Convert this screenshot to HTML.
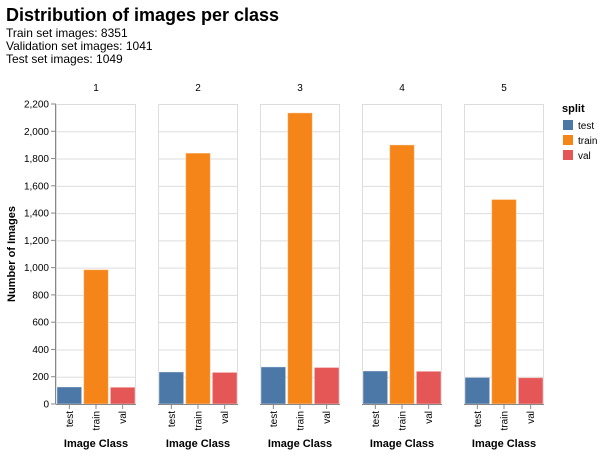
<!DOCTYPE html>
<html><head><meta charset="utf-8"><style>
body{margin:0;background:#fff;font-family:"Liberation Sans",Arial,sans-serif}
svg text{font-family:"Liberation Sans",Arial,sans-serif}
</style></head><body>
<svg id="c" width="604" height="453" xmlns="http://www.w3.org/2000/svg">
<text x="6" y="21" font-size="18" font-weight="bold" fill="#000">Distribution of images per class</text>
<text x="6" y="37" font-size="12">Train set images: 8351</text>
<text x="6" y="50" font-size="12">Validation set images: 1041</text>
<text x="6" y="63" font-size="12">Test set images: 1049</text>
<text transform="translate(15,254) rotate(-90)" text-anchor="middle" font-size="11" font-weight="bold">Number of Images</text>
<g id="legend">
<text x="562" y="112" font-size="11" font-weight="bold">split</text>
</g>
</svg>
<script>
const facets = ["1","2","3","4","5"];
const splits = ["test","train","val"];
const testVals = [125, 235, 272, 242, 195];
const trainVals = [985, 1840, 2135, 1900, 1500];
const valVals = [123, 232, 268, 240, 193];
const yTicks = [0,200,400,600,800,1000,1200,1400,1600,1800,2000,2200];
const colors = {test:"#4c78a8", train:"#f58518", val:"#e45756"};
const svg = document.getElementById('c');
const NS = "http://www.w3.org/2000/svg";
const y0 = 404, yTop = 104, yMax = 2200;
const y = v => y0 - v / yMax * (y0 - yTop);
const pw = 80, step = 102, px0 = 56;
function mk(tag, attrs, parent){const e=document.createElementNS(NS,tag);for(const k in attrs)e.setAttribute(k,attrs[k]);(parent||svg).appendChild(e);return e;}
const series = {test:testVals, train:trainVals, val:valVals};
yTicks.forEach(t=>{
  const ty=y(t);
  const l=mk('line',{x1:px0-5,x2:px0,y1:ty,y2:ty,stroke:'#888'});
  
  
  const tx=mk('text',{x:px0-7,y:ty+3.5,'text-anchor':'end','font-size':10});
  tx.textContent=t.toLocaleString('en-US');
  
  
});
const yl=mk('line',{x1:px0-0.5,x2:px0-0.5,y1:yTop,y2:y0,stroke:'#888'});


facets.forEach((f,i)=>{
  const x0=px0+i*step;
  const g=mk('g',{});
  
  
  yTicks.forEach(t=>{
    const gl=mk('line',{x1:x0,x2:x0+pw,y1:y(t)+0.5,y2:y(t)+0.5,stroke:'#ddd'},g);
    
    
  });
  const fr=mk('rect',{x:x0+0.5,y:yTop+0.5,width:pw-1,height:y0-yTop,fill:'none',stroke:'#ddd'},g);
  
  
  const ft=mk('text',{x:x0+pw/2,y:91,'text-anchor':'middle','font-size':10},g);
  ft.textContent=f;
  
  
  const bw=pw/3;
  splits.forEach((s,j)=>{
    const v=series[s][i];
    const bx=x0+j*bw+1;
    const r=mk('rect',{x:bx,y:y(v),width:bw-2,height:y0-y(v),fill:colors[s],stroke:'#fff','stroke-opacity':0.4,'stroke-width':1},g);
    
    
    const tk=mk('line',{x1:x0+j*bw+bw/2,x2:x0+j*bw+bw/2,y1:y0,y2:y0+5,stroke:'#888'},g);
    
    
    const lt=mk('text',{transform:`translate(${x0+j*bw+bw/2+3.5},${y0+7}) rotate(-90)`,'text-anchor':'end','font-size':10},g);
    lt.textContent=s;
    
    
  });
  const xl=mk('line',{x1:x0,x2:x0+pw,y1:y0+0.5,y2:y0+0.5,stroke:'#888'},g);
  
  
  const xt=mk('text',{x:x0+pw/2,y:447,'text-anchor':'middle','font-size':11,'font-weight':'bold'},g);
  xt.textContent='Image Class';
  
  
});
const lg=document.getElementById('legend');
splits.forEach((s,j)=>{
  const sw=mk('rect',{x:563,y:120+j*15,width:10,height:10,fill:colors[s]},lg);
  
  
  const t=mk('text',{x:578,y:129+j*15,'font-size':10},lg);
  t.textContent=s;
  
  
});
</script>
</body></html>
